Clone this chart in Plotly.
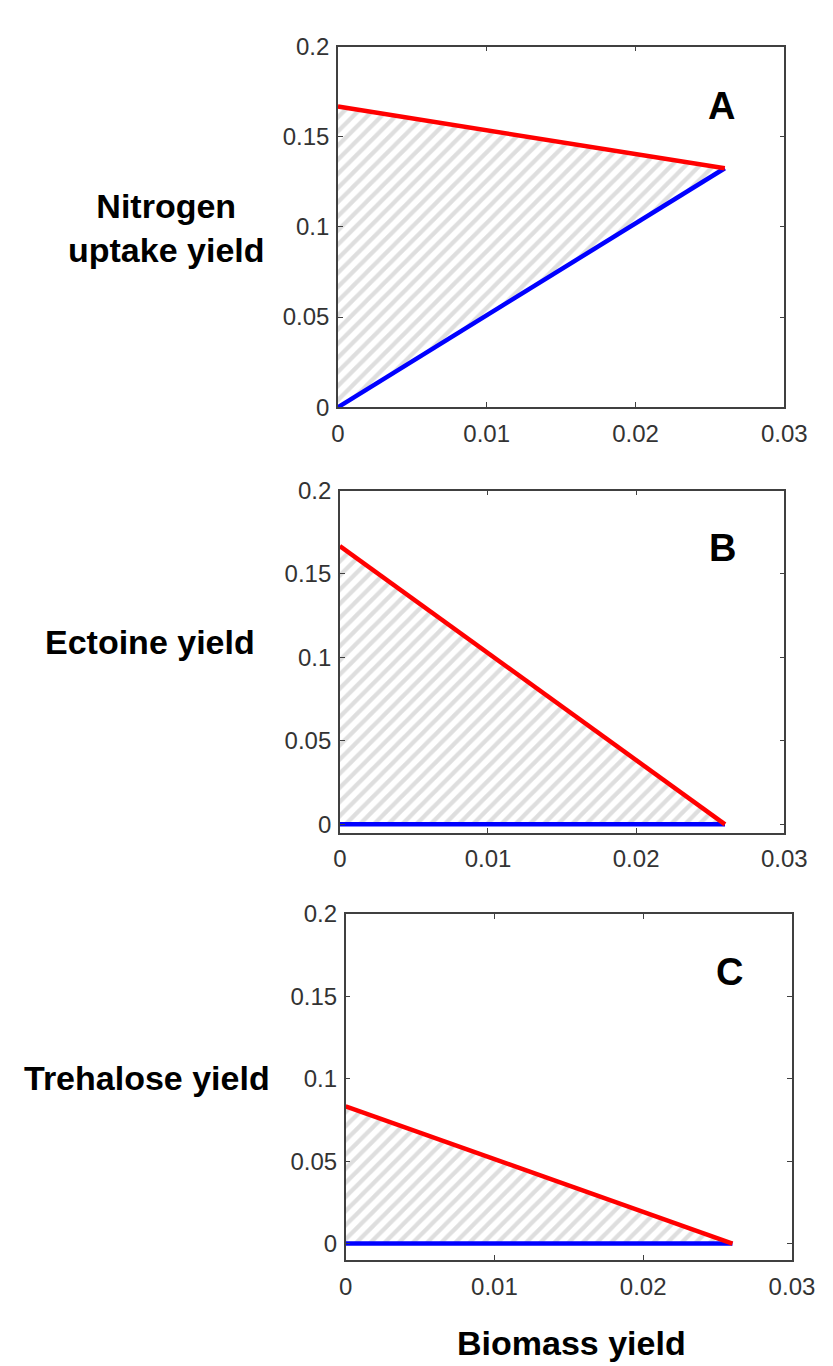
import plotly.graph_objects as go

# ---- data ----
biomass_x = [0.0, 0.026]
nitrogen_upper = [0.1667, 0.1325]
nitrogen_lower = [0.0, 0.1325]
ectoine_upper = [0.1667, 0.0]
ectoine_lower = [0.0, 0.0]
trehalose_upper = [0.0833, 0.0]
trehalose_lower = [0.0, 0.0]

panel_letters = ["A", "B", "C"]
y_titles = ["Nitrogen<br>uptake yield", "Ectoine yield", "Trehalose yield"]
x_title = "Biomass yield"
x_ticks = [0, 0.01, 0.02, 0.03]
x_ticklabels = ["0", "0.01", "0.02", "0.03"]
y_ticks = [0, 0.05, 0.1, 0.15, 0.2]
y_ticklabels = ["0", "0.05", "0.1", "0.15", "0.2"]

uppers = [nitrogen_upper, ectoine_upper, trehalose_upper]
lowers = [nitrogen_lower, ectoine_lower, trehalose_lower]

# ---- layout geometry (pixels) ----
W, H = 833, 1366
panels_px = [  # left, right, top, bottom
    (335, 798, 25, 393),
    (337, 798, 478, 827),
    (343, 806, 910, 1263),
]
y_ranges = [[0, 0.2], [-0.005, 0.2], [-0.01, 0.2]]
ytitle_pos = [(157, 210), (140, 632), (137, 1077)]

FONT = "Liberation Sans, Arial, Helvetica, sans-serif"
AX_COL = "#404040"

fig = go.Figure()
layout = dict(
    width=W, height=H,
    margin=dict(l=0, r=0, t=0, b=0),
    paper_bgcolor="white", plot_bgcolor="white",
    showlegend=False,
    font=dict(family=FONT, color="#262626"),
)
annotations = []

for i in range(3):
    sfx = "" if i == 0 else str(i + 1)
    xa, ya = "x" + sfx, "y" + sfx
    L, R, T, B = panels_px[i]
    up, lo = uppers[i], lowers[i]

    # hatched feasible region
    poly_x = biomass_x + biomass_x[::-1] + [biomass_x[0]]
    poly_y = up + lo[::-1] + [up[0]]
    fig.add_trace(go.Scatter(
        x=poly_x, y=poly_y, mode="lines", fill="toself",
        line=dict(width=0, color="rgba(0,0,0,0)"),
        fillcolor="rgba(255,255,255,0)",
        fillpattern=dict(shape="/", fgcolor="#bdbdbd", bgcolor="white",
                         size=10, solidity=0.42),
        xaxis=xa, yaxis=ya, hoverinfo="skip"))
    # lower bound (blue)
    fig.add_trace(go.Scatter(x=biomass_x, y=lo, mode="lines",
                             line=dict(color="#0000ff", width=4.5),
                             xaxis=xa, yaxis=ya))
    # upper bound (red)
    fig.add_trace(go.Scatter(x=biomass_x, y=up, mode="lines",
                             line=dict(color="#ff0000", width=4.5),
                             xaxis=xa, yaxis=ya))

    common = dict(showgrid=False, zeroline=False, showline=True,
                  linecolor=AX_COL, linewidth=1.5, mirror="ticks",
                  ticks="inside", ticklen=5, tickwidth=1.2, tickcolor=AX_COL,
                  tickfont=dict(size=24, family=FONT, color="#333333"))
    layout["xaxis" + sfx] = dict(
        domain=[L / W, R / W], range=[0, 0.03], anchor=ya,
        tickvals=x_ticks, ticktext=x_ticklabels, ticklabelstandoff=4, **common)
    layout["yaxis" + sfx] = dict(
        domain=[1 - B / H, 1 - T / H], range=y_ranges[i], anchor=xa,
        tickvals=y_ticks, ticktext=y_ticklabels, ticklabelstandoff=2, **common)

    annotations.append(dict(
        text="<b>%s</b>" % panel_letters[i], xref=xa + " domain", yref=ya + " domain",
        x=0.895, y=0.9, showarrow=False,
        font=dict(size=38, family=FONT, color="black")))
    tx, ty = ytitle_pos[i]
    annotations.append(dict(
        text="<b>%s</b>" % y_titles[i], xref="paper", yref="paper",
        x=tx / W, y=1 - ty / H, xanchor="center", yanchor="middle",
        showarrow=False, align="center",
        font=dict(size=34, family=FONT, color="black")))

annotations.append(dict(
    text="<b>%s</b>" % x_title, xref="paper", yref="paper",
    x=577 / W, y=1 - 1348 / H, xanchor="center", yanchor="middle",
    showarrow=False, font=dict(size=34, family=FONT, color="black")))

layout["annotations"] = annotations
fig.update_layout(**layout)
fig.write_html("out.html")
